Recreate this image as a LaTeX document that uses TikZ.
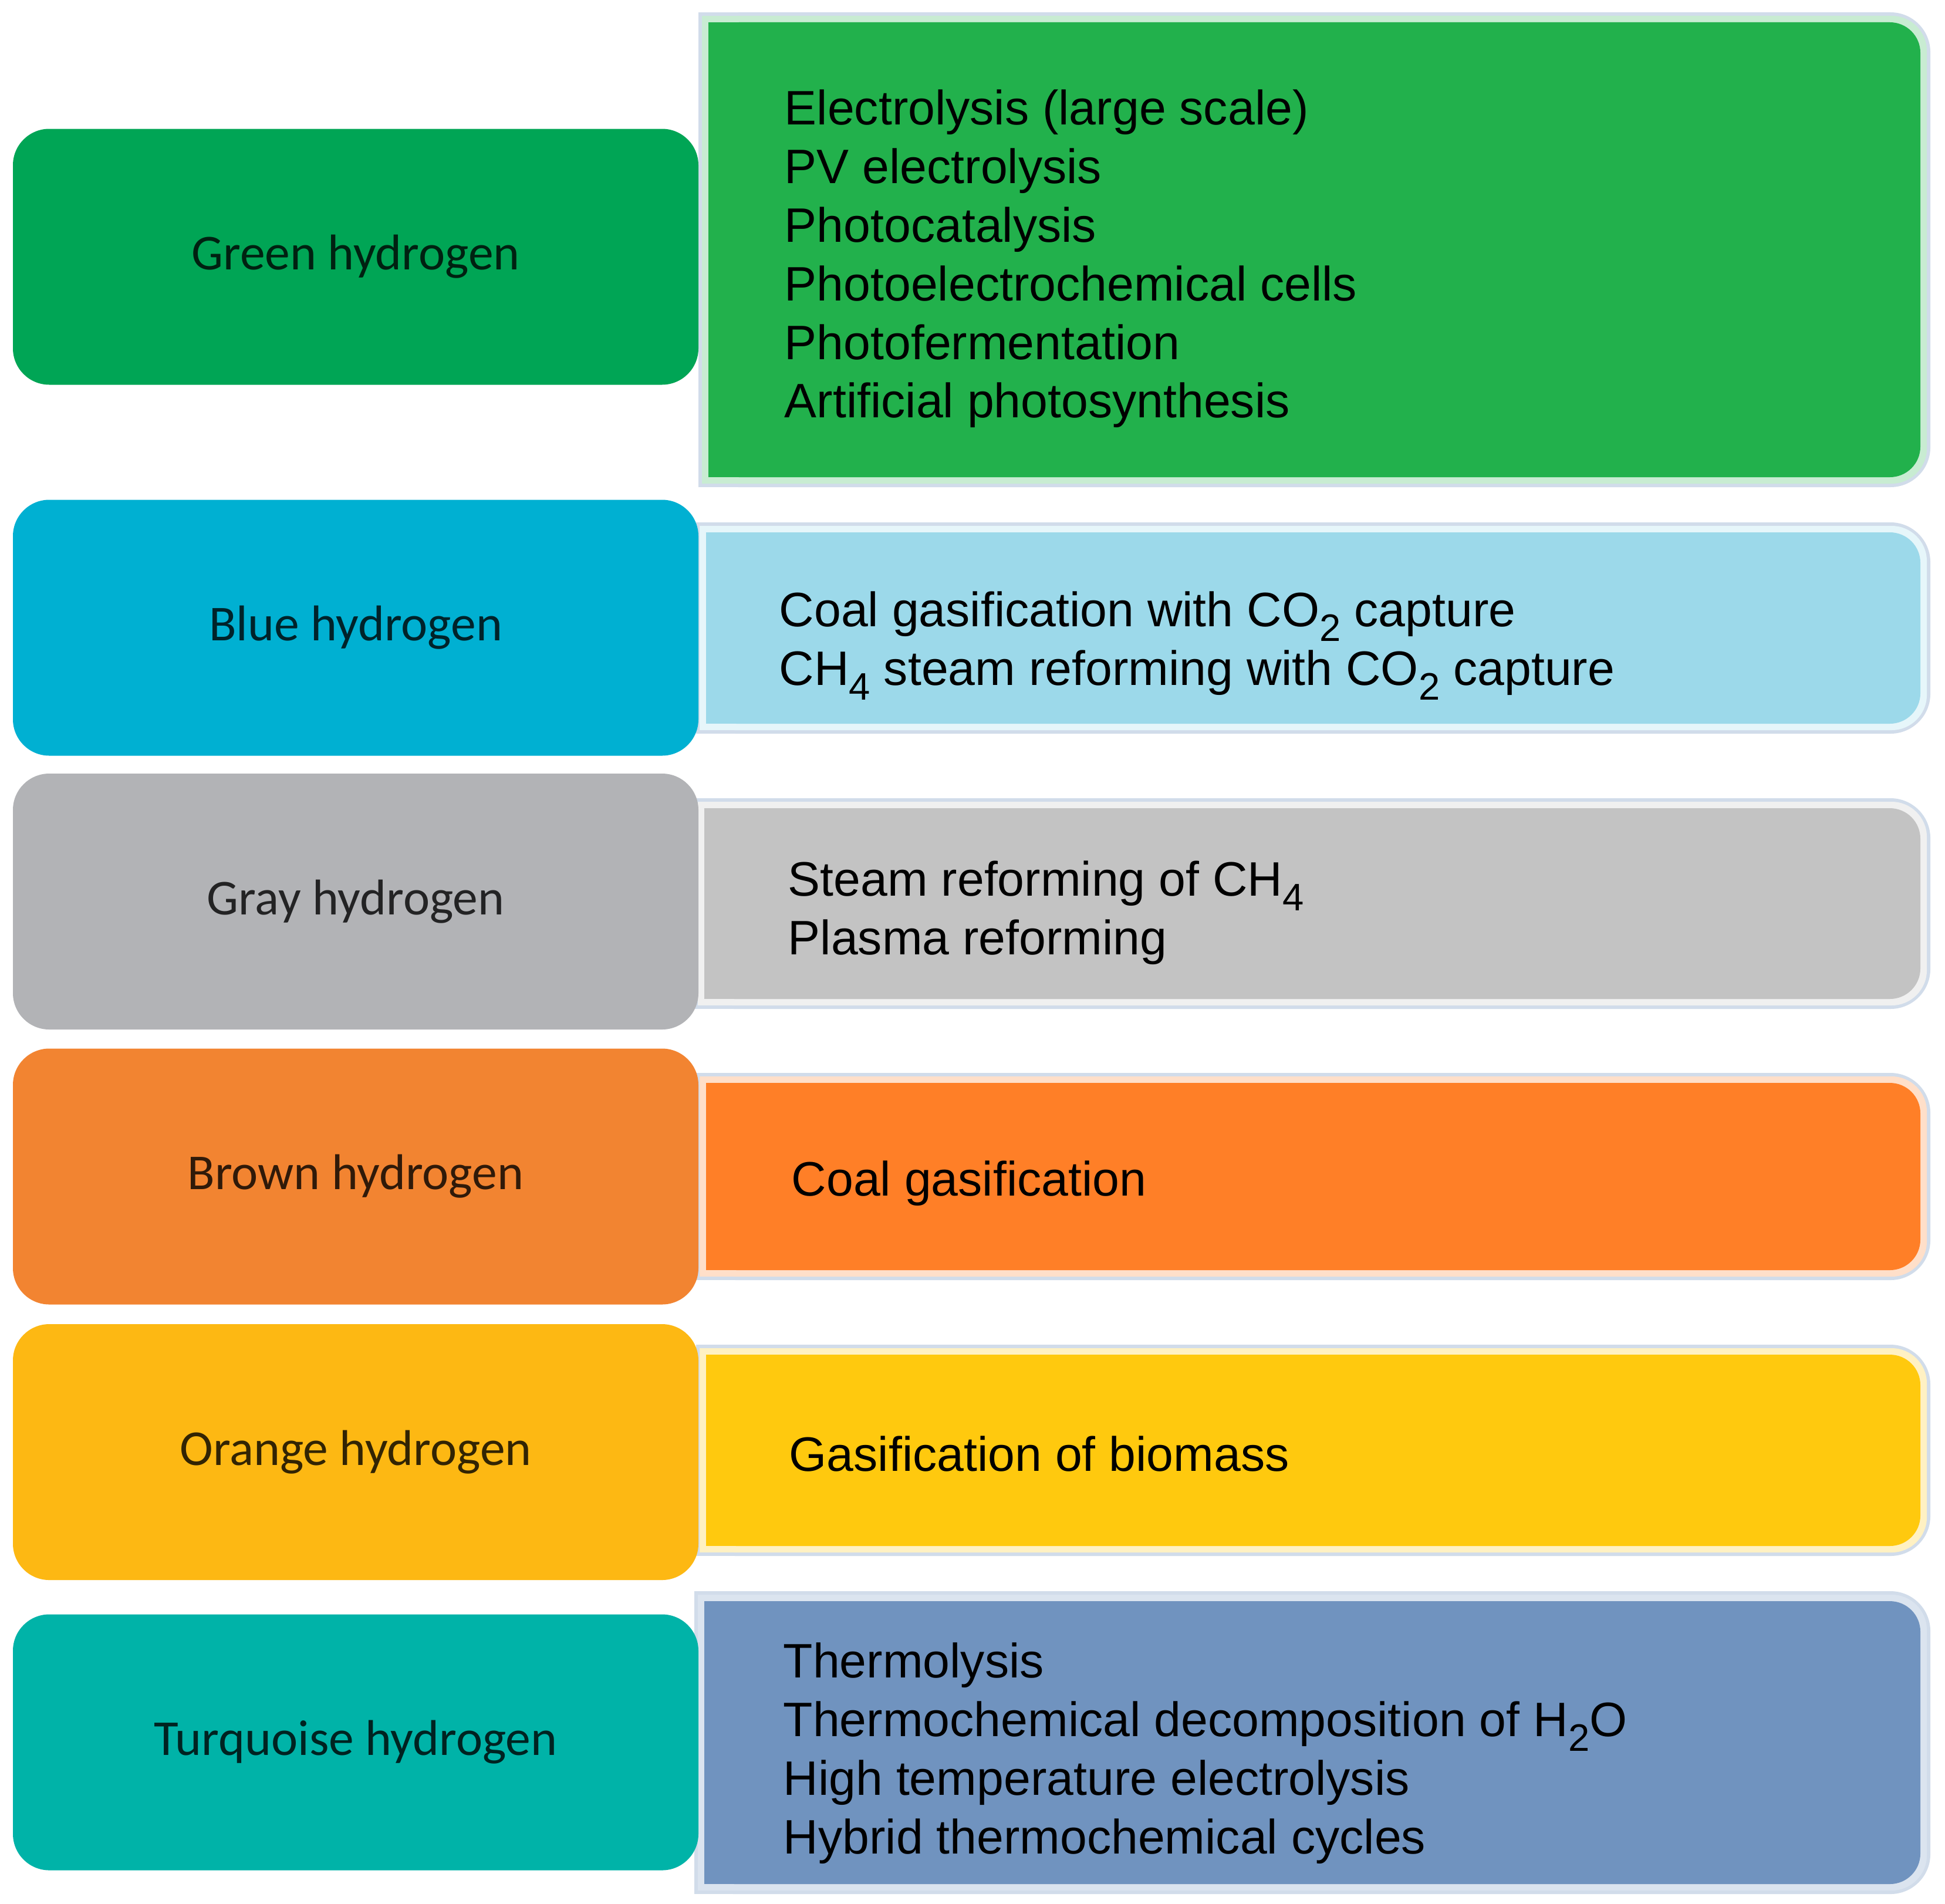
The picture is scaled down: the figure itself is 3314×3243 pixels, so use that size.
\documentclass[tikz,border=0pt]{standalone}
\usepackage{fontspec}
\setmainfont{Liberation Sans}
\newfontfamily\lblfont{Carlito}
\definecolor{gL}{HTML}{00A555}
\definecolor{gR}{HTML}{22B14C}
\definecolor{bL}{HTML}{00B0D2}
\definecolor{bR}{HTML}{9CD9EA}
\definecolor{yL}{HTML}{B2B3B6}
\definecolor{yR}{HTML}{C3C3C3}
\definecolor{oL}{HTML}{F28431}
\definecolor{oR}{HTML}{FF7F27}
\definecolor{aL}{HTML}{FDB813}
\definecolor{aR}{HTML}{FFC90E}
\definecolor{tL}{HTML}{00B3A8}
\definecolor{tR}{HTML}{7093BF}
\definecolor{bandout}{HTML}{D1DCEA}
\newcommand\sbs[1]{\raisebox{-6.2pt}{\fontsize{16.3pt}{16.3pt}\selectfont #1}}
% right box: x1 y1 x2 y2 colour (fill rectangle, rounded on the right only)
\newcommand\rbox[5]{%
  \fill[bandout,rounded corners=17pt] (#1-17,#2-17) rectangle (#3+17,#4+17);
  \fill[bandout] (#1-17,#2-17) rectangle (#1+150,#4+17);
  \fill[#5!25!white,rounded corners=15pt] (#1-11,#2-11) rectangle (#3+11,#4+11);
  \fill[#5!25!white] (#1-11,#2-11) rectangle (#1+150,#4+11);
  \fill[#5,rounded corners=13pt] (#1,#2) rectangle (#3,#4);
  \fill[#5] (#1,#2) rectangle (#1+150,#4);
}
\tikzset{
  lbox/.style={rectangle, rounded corners=15.5pt, minimum width=292pt,
    minimum height=109pt, inner sep=0pt,
    font=\lblfont\fontsize{21.4pt}{25pt}\selectfont, text=black, text opacity=0.8},
  rtext/.style={anchor=west, align=left, inner sep=0pt, text=black,
    font=\fontsize{20.6pt}{24.95pt}\selectfont}
}
\begin{document}
\begin{tikzpicture}[x=0.25pt,y=-0.25pt]
\useasboundingbox (0,0) rectangle (3314,3243);
\fill[white] (0,0) rectangle (3314,3243);

% right boxes
\rbox{1207}{38}{3272}{813}{gR}
\rbox{1203}{907}{3272}{1233}{bR}
\rbox{1200}{1377}{3272}{1702}{yR}
\rbox{1203}{1845}{3272}{2164}{oR}
\rbox{1203}{2308}{3272}{2634}{aR}
\rbox{1200}{2728}{3272}{3210}{tR}

% left boxes
\node[lbox, fill=gL] (green) at (606,437.5) {Green hydrogen};
\node[lbox, fill=bL] (blue) at (606,1069.5) {Blue hydrogen};
\node[lbox, fill=yL] (gray) at (606,1536) {Gray hydrogen};
\node[lbox, fill=oL] (brown) at (606,2004.5) {Brown hydrogen};
\node[lbox, fill=aL] (orange) at (606,2474) {Orange hydrogen};
\node[lbox, fill=tL] (turq) at (606,2968.5) {Turquoise hydrogen};

% right texts
\node[rtext] (greenT) at (1336,441) {Electrolysis (large scale)\\PV electrolysis\\Photocatalysis\\Photoelectrochemical cells\\Photofermentation\\Artificial photosynthesis};
\node[rtext] (blueT) at (1327,1100) {Coal gasification with CO\sbs{2} capture\\CH\sbs{4} steam reforming with CO\sbs{2} capture};
\node[rtext] (grayT) at (1342,1555) {Steam reforming of CH\sbs{4}\\Plasma reforming};
\node[rtext] (brownT) at (1348,2016) {Coal gasification};
\node[rtext] (orangeT) at (1344,2477) {Gasification of biomass};
\node[rtext] (turqT) at (1334,2987) {Thermolysis\\Thermochemical decomposition of H\sbs{2}O\\High temperature electrolysis\\Hybrid thermochemical cycles};
\end{tikzpicture}
\end{document}
